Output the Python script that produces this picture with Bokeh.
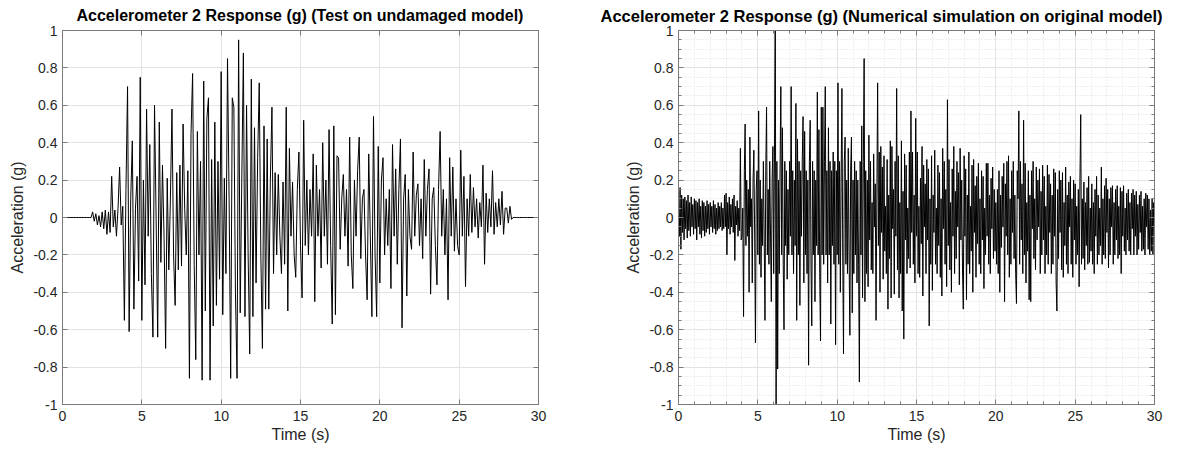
import numpy as np
from bokeh.plotting import figure
from bokeh.layouts import row
from bokeh.models import (FixedTicker, CustomJSTickFormatter, LinearAxis, Range1d,
                          ColumnDataSource)
from bokeh.embed import file_html
from bokeh.resources import INLINE

# ---------------- data ----------------
titles = ["Accelerometer 2 Response (g) (Test on undamaged model)",
          "Accelerometer 2 Response (g) (Numerical simulation on original model)"]
x_label = "Time (s)"
y_label = "Acceleration (g)"
x_ticks = [0, 5, 10, 15, 20, 25, 30]
y_ticks = [-1, -0.8, -0.6, -0.4, -0.2, 0, 0.2, 0.4, 0.6, 0.8, 1]

# test record (left), sampled every 0.1 s from t = 0
test_t0, test_dt = 0.0, 0.1
test_acc = [
    0, 0, 0, 0, 0, 0, 0, 0, 0, 0,
    0, 0, 0, 0, 0, 0, 0, 0, 0, 0.03,
    -0.02, 0.02, -0.04, 0.01, -0.05, 0.03, -0.06, 0.04, -0.09, 0.03,
    -0.08, 0.22, -0.05, 0.04, -0.10, 0.05, 0.27, -0.04, 0.06, -0.55,
    0.15, 0.70, -0.61, 0.10, 0.41, -0.49, 0.05, 0.22, -0.34, 0.75,
    -0.55, 0.20, -0.36, 0.58, -0.10, 0.39, -0.30, -0.64, 0.60, 0.00,
    -0.64, 0.51, -0.24, 0.28, -0.10, -0.70, 0.21, -0.28, 0.10, 0.58,
    -0.20, -0.47, 0.24, -0.28, 0.28, -0.26, 0.50, 0.05, -0.20, 0.25,
    -0.86, 0.45, 0.77, -0.25, -0.76, 0.46, -0.20, 0.30, -0.87, 0.73,
    -0.50, 0.53, 0.64, -0.87, 0.31, -0.58, 0.51, -0.47, 0.30, -0.33,
    0.78, -0.52, 0.21, -0.30, 0.85, 0.10, -0.86, 0.64, 0.59, -0.40,
    -0.86, 0.95, -0.51, 0.20, 0.88, -0.53, 0.60, -0.20, -0.73, 0.74,
    -0.53, 0.48, -0.35, 0.32, 0.72, -0.20, -0.70, 0.49, -0.49, 0.42,
    -0.49, 0.20, 0.59, -0.30, 0.24, -0.20, 0.23, -0.10, -0.30, 0.19,
    -0.25, 0.59, -0.50, 0.37, -0.10, 0.19, -0.20, -0.32, 0.15, 0.35,
    -0.15, -0.43, 0.52, -0.15, 0.20, -0.20, 0.15, -0.10, 0.34, -0.45,
    0.28, -0.10, 0.15, -0.27, 0.40, -0.10, 0.20, -0.25, 0.47, -0.15,
    -0.57, 0.49, -0.52, 0.33, 0.32, -0.17, 0.10, 0.23, -0.10, 0.15,
    -0.26, 0.43, -0.20, -0.38, 0.20, -0.10, 0.25, 0.43, -0.22, 0.10,
    0.15, -0.20, -0.44, 0.34, -0.10, -0.53, 0.54, -0.20, -0.53, 0.38,
    -0.35, 0.20, 0.32, -0.20, 0.10, -0.15, 0.15, -0.38, 0.39, -0.10,
    0.26, -0.25, 0.15, 0.42, -0.59, 0.10, 0.23, -0.42, 0.15, -0.10,
    -0.17, 0.35, -0.10, 0.12, 0.18, -0.15, 0.10, -0.22, 0.31, -0.10,
    0.15, 0.26, -0.41, 0.10, 0.16, -0.15, -0.36, 0.15, 0.46, -0.10,
    0.15, -0.20, 0.10, -0.44, 0.32, -0.10, 0.27, -0.18, 0.10, -0.15,
    -0.20, 0.36, -0.10, 0.22, -0.37, 0.10, -0.10, 0.23, -0.08, 0.16,
    -0.05, 0.10, -0.11, 0.08, -0.05, 0.28, -0.25, 0.13, -0.08, 0.10,
    -0.05, 0.25, -0.09, 0.08, -0.05, 0.10, -0.04, 0.14, -0.09, 0.05,
    0.05, -0.03, 0.06, -0.01, 0.0, 0, 0, 0, 0, 0,
    0, 0, 0, 0, 0, 0, 0, 0, 0, 0,
    0,
]

# numerical simulation (right), sampled every 0.05 s from t = 0
sim_t0, sim_dt = 0.0, 0.05
sim_acc = [
    0.05, -0.10, 0.16, -0.17, 0.12, -0.08, 0.10, -0.12, 0.11, -0.06, 0.09, -0.11, 0.12, -0.07, 0.08, -0.10, 0.11, -0.05, 0.07, -0.09,
    0.10, -0.06, 0.09, -0.12, 0.08, -0.05, 0.10, -0.09, 0.06, -0.11, 0.09, -0.07, 0.08, -0.10, 0.06, -0.08, 0.09, -0.06, 0.07, -0.09,
    0.08, -0.05, 0.06, -0.08, 0.09, -0.06, 0.07, -0.09, 0.05, -0.07, 0.08, -0.06, 0.06, -0.05, 0.08, -0.07, 0.05, -0.06, 0.12, -0.05,
    0.13, -0.20, 0.08, -0.06, 0.11, -0.09, 0.07, -0.05, 0.10, -0.08, 0.12, -0.23, 0.06, -0.04, 0.09, -0.10, 0.05, -0.07, 0.37, -0.12,
    -0.10, 0.05, -0.53, 0.25, 0.50, -0.15, 0.20, -0.10, 0.15, -0.40, 0.43, -0.05, 0.10, -0.35, 0.20, 0.36, -0.10, -0.67, 0.15, 0.25,
    -0.20, 0.57, -0.25, 0.20, -0.32, 0.10, -0.15, 0.30, -0.10, -0.55, 0.25, 0.59, -0.20, 0.15, -0.25, 0.30, -0.10, -0.45, 0.20, 0.38,
    -0.30, 0.35, 1.20, -1.20, 0.30, -0.81, 0.20, -0.30, 0.25, 0.70, -0.20, 0.48, -0.25, -0.60, 0.30, -0.15, 0.25, -0.33, 0.15, -0.20,
    0.30, -0.10, 0.70, -0.20, 0.25, -0.30, 0.20, -0.15, 0.61, -0.55, 0.42, -0.20, 0.30, -0.47, 0.25, -0.10, 0.30, 0.54, -0.35, 0.46,
    -0.20, 0.25, -0.30, 0.20, -0.79, 0.30, 0.52, -0.25, -0.58, 0.30, -0.20, 0.25, -0.45, 0.20, -0.15, 0.67, -0.20, 0.47, -0.30, -0.66,
    0.59, -0.20, 0.59, -0.25, 0.30, 0.70, -0.20, 0.25, -0.35, 0.48, -0.20, 0.30, -0.57, 0.25, -0.15, 0.35, -0.25, 0.30, -0.68, 0.25,
    -0.20, 0.72, -0.25, 0.30, -0.40, 0.20, 0.69, -0.20, -0.73, 0.30, 0.43, -0.25, 0.20, -0.30, 0.37, -0.20, -0.63, 0.25, 0.43, -0.51,
    0.20, -0.30, 0.30, -0.20, 0.25, -0.35, 0.20, -0.25, -0.88, 0.30, -0.20, 0.49, -0.43, 0.30, 0.85, -0.45, 0.25, -0.30, 0.20, -0.37,
    0.44, -0.12, 0.30, -0.28, 0.08, -0.30, 0.34, -0.05, 0.18, -0.55, 0.10, 0.72, -0.15, 0.35, -0.40, 0.38, -0.08, 0.27, -0.33, 0.33,
    -0.18, 0.06, -0.30, 0.31, -0.49, 0.12, -0.22, 0.41, -0.43, 0.38, -0.06, 0.15, -0.41, 0.30, -0.10, 0.69, -0.28, 0.33, -0.43, 0.08,
    -0.30, 0.41, -0.50, 0.14, -0.65, 0.34, -0.12, 0.28, -0.30, 0.05, -0.22, 0.35, -0.27, 0.57, -0.08, 0.35, -0.25, 0.12, -0.35, 0.53,
    -0.10, 0.35, -0.30, 0.06, -0.32, 0.21, -0.14, 0.38, -0.42, 0.28, -0.05, 0.18, -0.30, 0.31, -0.12, 0.26, -0.58, 0.10, -0.25, 0.33,
    -0.39, 0.12, -0.08, 0.36, -0.25, 0.05, -0.30, 0.28, -0.15, 0.24, -0.32, 0.10, -0.42, 0.37, -0.06, 0.30, -0.25, 0.15, -0.37, 0.63,
    -0.15, 0.31, -0.28, 0.08, -0.40, 0.26, -0.10, 0.38, -0.30, 0.14, -0.22, 0.30, -0.05, 0.24, -0.36, 0.37, -0.12, 0.20, -0.28, -0.49,
    0.33, -0.10, 0.26, -0.44, 0.12, -0.25, 0.35, -0.30, 0.06, -0.18, 0.28, -0.40, 0.31, -0.08, 0.17, -0.32, 0.22, -0.14, 0.29, -0.25,
    0.10, -0.30, 0.25, -0.12, 0.22, -0.38, 0.05, -0.20, 0.29, -0.10, 0.29, -0.25, 0.12, -0.30, 0.21, -0.06, 0.27, -0.22, 0.15, -0.18,
    0.08, -0.25, 0.15, -0.30, 0.25, -0.40, 0.12, -0.16, 0.22, -0.05, 0.29, -0.45, 0.18, -0.10, 0.30, -0.20, 0.33, -0.32, 0.10, -0.25,
    0.25, -0.08, 0.30, -0.22, 0.12, -0.30, -0.46, 0.25, 0.10, 0.57, -0.25, 0.30, -0.12, 0.18, -0.30, 0.52, -0.20, 0.29, -0.35, 0.08,
    -0.18, 0.25, -0.44, 0.12, -0.45, 0.25, -0.06, 0.30, -0.22, 0.10, -0.28, 0.27, -0.12, 0.20, -0.05, 0.26, -0.30, 0.14, -0.20, 0.28,
    -0.12, 0.22, -0.30, 0.06, -0.20, 0.28, -0.25, 0.23, -0.08, 0.18, -0.30, 0.12, -0.25, 0.26, -0.10, 0.24, -0.35, -0.50, 0.15, -0.22,
    0.25, -0.08, 0.20, -0.28, 0.24, -0.32, 0.08, -0.15, 0.27, -0.25, 0.12, -0.30, 0.19, -0.05, 0.22, -0.25, 0.10, -0.32, 0.20, -0.12,
    0.18, -0.25, 0.06, -0.20, 0.15, -0.37, 0.20, 0.55, -0.25, 0.10, -0.22, 0.19, -0.28, 0.08, -0.15, 0.16, -0.25, 0.22, -0.24, 0.05,
    -0.18, 0.18, -0.25, 0.08, -0.30, 0.15, -0.10, 0.22, -0.25, 0.12, -0.20, 0.05, -0.15, 0.27, -0.25, 0.10, -0.20, 0.17, -0.22, 0.21,
    -0.08, 0.15, -0.27, 0.10, -0.20, 0.16, -0.05, 0.17, -0.25, 0.08, -0.20, 0.15, -0.12, 0.17, -0.22, 0.06, -0.20, 0.16, -0.30, 0.14,
    -0.10, 0.17, -0.18, 0.05, -0.20, 0.13, -0.12, 0.15, -0.18, 0.08, -0.20, 0.13, -0.06, 0.15, -0.20, 0.12, -0.10, 0.14, -0.20, 0.07,
    -0.17, 0.12, -0.08, 0.14, -0.18, 0.06, -0.17, 0.10, -0.20, 0.13, -0.05, 0.12, -0.17, 0.10, -0.20, 0.04, -0.18, 0.10, -0.20, 0.08,
    -0.05,
]

# ---------------- styling ----------------
FONT = "Liberation Sans"
TXT = "#262626"
AX = "#7a7a7a"
GRID = "#e3e3e3"
MINOR_GRID = "#dedede"

y_fmt = CustomJSTickFormatter(code="""
const v = Math.round(tick * 100) / 100;
return Math.abs(v) < 1e-9 ? '0' : String(v);
""")
blank_fmt = CustomJSTickFormatter(code="return '';")


def make_fig(title, t0, dt, acc, width, b_left, b_right, minor,
             title_size, title_dx, title_standoff):
    p = figure(width=width, height=451, output_backend="svg", toolbar_location=None,
               x_range=Range1d(0, 30), y_range=Range1d(-1, 1),
               min_border_left=b_left, min_border_right=b_right,
               min_border_top=30, min_border_bottom=47)
    p.title.text = title
    p.title.align = "left"
    p.title.offset = title_dx
    p.title.vertical_align = "top"
    p.title.text_font = FONT
    p.title.text_font_size = title_size
    p.title.text_font_style = "bold"
    p.title.text_color = "#000000"
    p.title.standoff = title_standoff

    t = t0 + dt * np.arange(len(acc))
    src = ColumnDataSource(dict(t=t, a=np.array(acc, dtype=float)))
    p.line("t", "a", source=src, line_color="black", line_width=1)

    minor_x = list(range(0, 31)) if minor else []
    minor_y = [round(-1 + 0.05 * k, 2) for k in range(41)] if minor else []
    xt = FixedTicker(ticks=x_ticks, minor_ticks=minor_x)
    yt = FixedTicker(ticks=y_ticks, minor_ticks=minor_y)

    p.xaxis.ticker = xt
    p.yaxis.ticker = yt
    p.yaxis.formatter = y_fmt
    p.xaxis.axis_label = x_label
    p.yaxis.axis_label = y_label

    for ax in (p.xaxis[0], p.yaxis[0]):
        ax.axis_line_color = AX
        ax.major_tick_line_color = AX
        ax.minor_tick_line_color = AX
        ax.major_tick_in = 5
        ax.major_tick_out = 0
        ax.minor_tick_in = 3 if minor else 0
        ax.minor_tick_out = 0
        ax.major_label_text_font = FONT
        ax.major_label_text_font_size = "14px"
        ax.major_label_text_color = TXT
        ax.axis_label_text_font = FONT
        ax.axis_label_text_font_size = "16px"
        ax.axis_label_text_font_style = "normal"
        ax.axis_label_text_color = TXT
    p.xaxis.major_label_standoff = 6
    p.xaxis.axis_label_standoff = 2
    p.yaxis.major_label_standoff = 5
    p.yaxis.axis_label_standoff = 4

    # box with inward ticks on top and right (MATLAB style)
    for side in ("above", "right"):
        ax = LinearAxis(ticker=xt if side == "above" else yt, formatter=blank_fmt)
        ax.axis_line_color = AX
        ax.major_tick_line_color = AX
        ax.minor_tick_line_color = AX
        ax.major_tick_in = 5
        ax.major_tick_out = 0
        ax.minor_tick_in = 3 if minor else 0
        ax.minor_tick_out = 0
        ax.major_label_text_font_size = "0px"
        ax.major_label_standoff = 0
        p.add_layout(ax, side)

    p.xgrid.ticker = xt
    p.ygrid.ticker = yt
    p.xgrid.grid_line_color = GRID
    p.ygrid.grid_line_color = GRID
    if minor:
        for g in (p.xgrid[0], p.ygrid[0]):
            g.minor_grid_line_color = MINOR_GRID
            g.minor_grid_line_dash = "1 2"
    p.outline_line_color = AX
    p.background_fill_color = "white"
    p.border_fill_color = "white"
    return p


p1 = make_fig(titles[0], test_t0, test_dt, test_acc, 600, 62, 62, False, "16px", 14, 9)
p2 = make_fig(titles[1], sim_t0, sim_dt, sim_acc, 596, 78, 42, True, "16.5px", -78, 8)

layout = row(p1, p2)
open("out.html", "w").write(file_html(layout, INLINE))
